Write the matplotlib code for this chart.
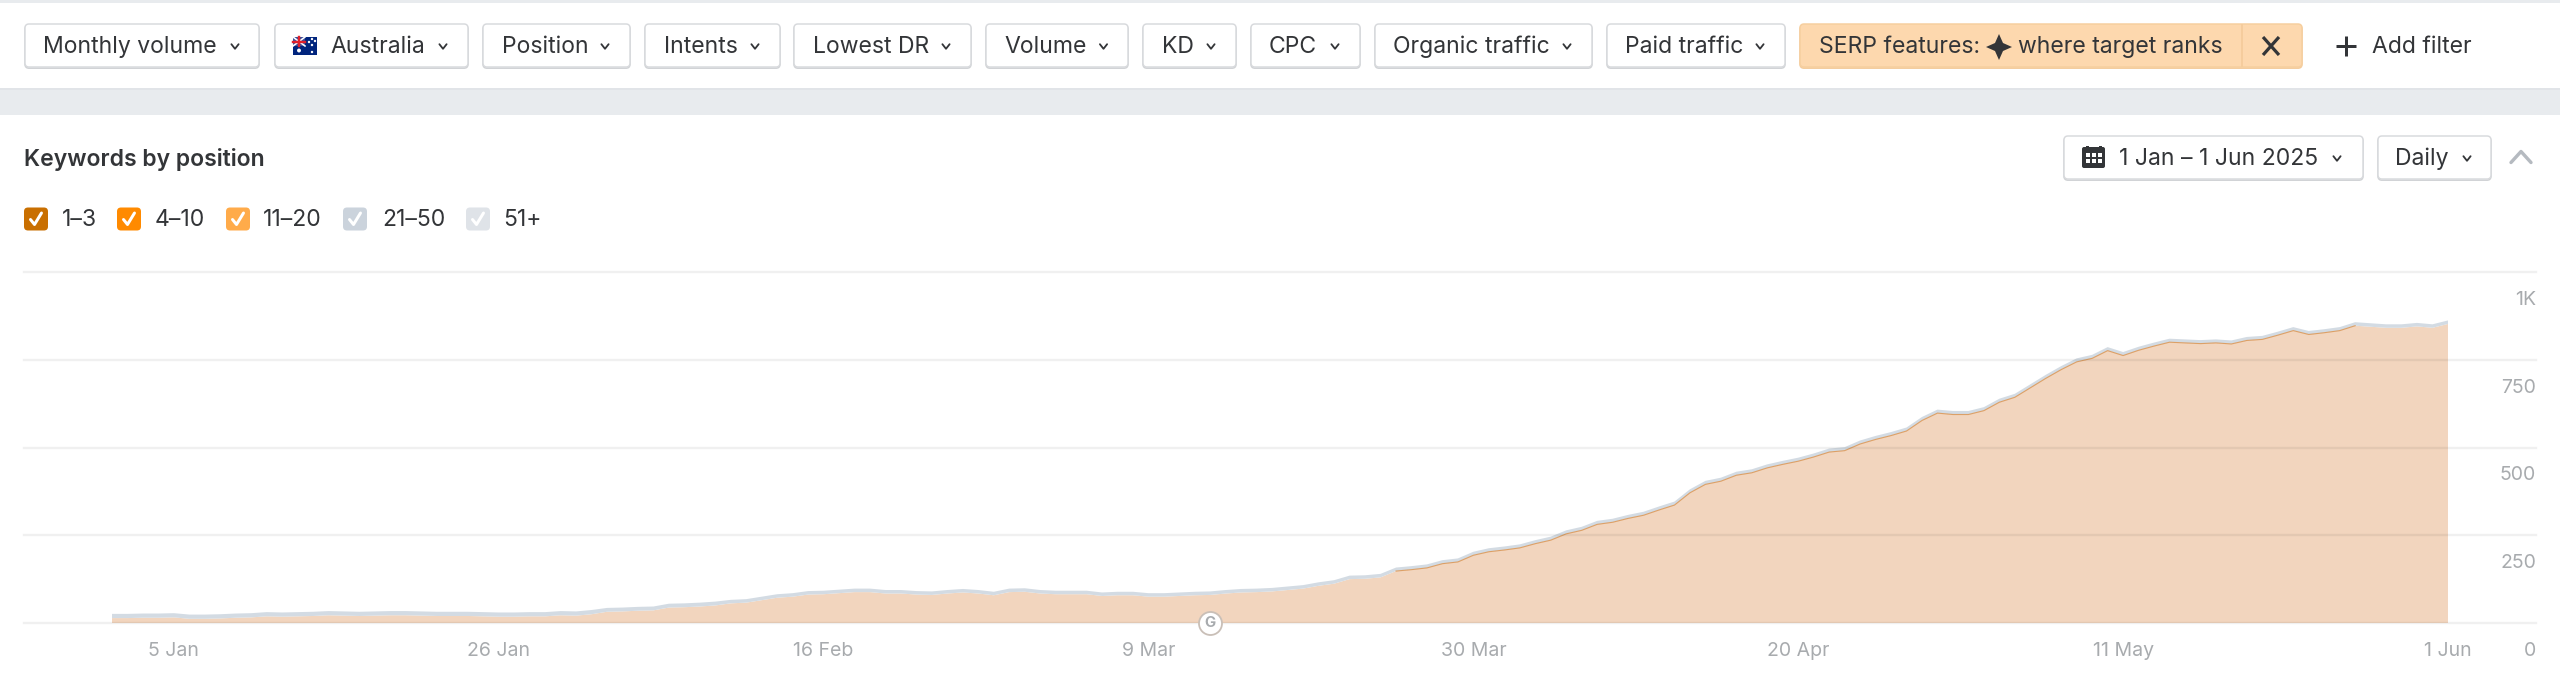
import numpy as np
import pandas as pd
import matplotlib
matplotlib.use('Agg')
import matplotlib.pyplot as plt
from matplotlib.patches import FancyBboxPatch, Rectangle, Polygon
from matplotlib.transforms import ScaledTranslation

plt.rcParams['font.family'] = ['Inter', 'DejaVu Sans']

# chart data
dates = pd.date_range('2025-01-01', '2025-06-01', freq='D')
keywords_total = [
    26, 26, 27, 27, 28, 24, 24, 25, 27, 28, 31, 30, 31, 32, 34, 33, 32, 33, 34, 34,
    33, 32, 32, 32, 31, 30, 30, 31, 31, 34, 33, 37, 43, 44, 46, 47, 55, 56, 58, 61,
    66, 68, 75, 82, 85, 91, 92, 95, 98, 98, 94, 94, 91, 90, 94, 97, 94, 89, 98, 99,
    94, 92, 92, 92, 87, 89, 89, 85, 85, 87, 89, 90, 94, 97, 98, 100, 104,
    108, 116, 122, 135, 136, 140, 158, 162, 167, 179, 184, 203, 213, 218, 224, 236,
    246, 264, 274, 291, 297, 308, 317, 332, 346, 381, 405, 414, 431, 438, 452, 462, 471,
    483, 497, 501, 520, 533, 544, 557, 587, 608, 604, 604, 615, 639, 653, 680, 707,
    732, 754, 764, 786, 772, 787, 799, 810, 808, 806, 808, 805, 815, 818, 830, 843,
    832, 837, 843, 857, 854, 851, 851, 855, 851, 862,
]
keywords_21_plus = [
    12, 12, 12, 12, 12, 12, 12, 12, 12, 12, 12, 12, 12, 12, 12, 12, 12, 12, 12, 12,
    12, 12, 12, 12, 12, 12, 12, 12, 12, 12, 12, 12, 11, 11, 11, 11, 11, 11, 11, 11,
    10, 10, 10, 10, 10, 10, 10, 10, 10, 10, 10, 10, 10, 10, 10, 10, 10, 10, 10, 10,
    10, 10, 10, 10, 10, 10, 10, 10, 10, 10, 10, 10, 10, 10, 10, 10, 10,
    10, 10, 10, 10, 10, 10, 10, 10, 10, 10, 10, 10, 10, 10, 10, 10,
    10, 10, 10, 10, 10, 10, 10, 10, 10, 10, 10, 10, 10, 10, 10, 10, 10,
    10, 10, 10, 10, 10, 10, 10, 10, 10, 10, 10, 10, 10, 10, 10, 10,
    10, 10, 10, 10, 10, 10, 10, 10, 10, 10, 10, 10, 10, 10, 10, 10,
    10, 10, 10, 10, 10, 10, 10, 10, 10, 10,
]
x_tick_dates = ['2025-01-05', '2025-01-26', '2025-02-16', '2025-03-09',
                '2025-03-30', '2025-04-20', '2025-05-11', '2025-06-01']
x_tick_labels = ['5 Jan', '26 Jan', '16 Feb', '9 Mar', '30 Mar', '20 Apr', '11 May', '1 Jun']
y_ticks = [0, 250, 500, 750, 1000]
y_tick_labels = ['0', '250', '500', '750', '1K']
google_update_date = '2025-03-13'

position_groups = ['1–3', '4–10', '11–20', '21–50', '51+']
position_colors = ['#c96f00', '#ff8a00', '#ffab4a', '#cbd3dc', '#dfe3e8']

TEXT = '#333538'
W, H = 2560, 682
PX = 0.72  # points per pixel at dpi 100

fig = plt.figure(figsize=(W / 100, H / 100), dpi=100, facecolor='white')

# page furniture in pixel coordinates
ui = fig.add_axes([0, 0, 1, 1])
ui.set_xlim(0, W)
ui.set_ylim(H, 0)
ui.axis('off')


def button(x0, x1, y0, y1, face='white', edge='#d8dadd', shade='#cfd1d4'):
    for off, col in ((1.2, shade), (0, edge)):
        ui.add_patch(FancyBboxPatch((x0 + 4, y0 + 4 + off), x1 - x0 - 8, y1 - y0 - 8,
                                    boxstyle='round,pad=4,rounding_size=4',
                                    fc=face, ec=col, lw=1.5 * PX))


def chevron(cx, cy, color=TEXT, up=False, w=3.6, h=2.3, lw=1.4):
    s = -1 if up else 1
    ui.plot([cx - w, cx, cx + w], [cy - s * h, cy + s * h, cy - s * h], color=color,
            lw=lw * PX * 1.3, solid_capstyle='round', solid_joinstyle='round')


def label(x, y, s, size=23, color=TEXT, ha='left', weight='normal'):
    ui.text(x, y, s, fontsize=size * PX, color=color, ha=ha, va='center',
            fontweight=weight)


ui.add_patch(Rectangle((0, 0), W, 3, fc='#e8ebee', ec='none'))
ui.add_patch(Rectangle((0, 88), W, 27, fc='#e8ebee', ec='none'))
ui.add_patch(Rectangle((0, 88), W, 2, fc='#e1e4e8', ec='none'))

filters = [
    ('Monthly volume', 25, 259, 43, 235),
    ('Australia', 275, 468, 330, 443),
    ('Position', 483, 630, 502, 605),
    ('Intents', 645, 780, 664, 755),
    ('Lowest DR', 794, 971, 813, 946),
    ('Volume', 986, 1128, 1004, 1103.5),
    ('KD', 1143, 1236, 1162, 1211),
    ('CPC', 1251, 1360, 1269, 1335),
    ('Organic traffic', 1375, 1592, 1393, 1567),
    ('Paid traffic', 1607, 1785, 1625, 1760),
]
for name, x0, x1, tx, cx in filters:
    button(x0, x1, 24, 67)
    label(tx, 47, name)
    chevron(cx, 46.5)

# australian flag
ui.add_patch(Rectangle((293, 37), 24, 18, fc='#00247d', ec='none', zorder=3))
ui.add_patch(Rectangle((293, 37), 12, 9, fc='#3b4f9a', ec='none', zorder=3))
ui.plot([293, 305], [37, 46], color='white', lw=1.6 * PX, zorder=4)
ui.plot([293, 305], [46, 37], color='white', lw=1.6 * PX, zorder=4)
ui.plot([299, 299], [37, 46], color='#e0202c', lw=2.4 * PX, zorder=5)
ui.plot([293, 305], [41.5, 41.5], color='#e0202c', lw=2.4 * PX, zorder=5)
ui.scatter([299, 312, 312, 309, 315, 312], [50.5, 39, 45, 42, 41, 52], s=[8, 3, 3, 3, 3, 3],
           color='white', lw=0, zorder=5)

# active SERP features filter
button(1800, 2302, 24, 67, face='#fdd8ae', edge='#f6cf9f', shade='#f3cb9c')
ui.plot([2242, 2242], [25, 66], color='#f3c998', lw=1.5 * PX)
label(1819, 47, 'SERP features:')
star_x = 1999
star_y = 47
ui.add_patch(Polygon([(star_x, star_y - 13), (star_x + 4, star_y - 4), (star_x + 13, star_y),
                      (star_x + 4, star_y + 4), (star_x, star_y + 13), (star_x - 4, star_y + 4),
                      (star_x - 13, star_y), (star_x - 4, star_y - 4)], fc=TEXT, ec='none'))
label(2018, 47, 'where target ranks')
ui.plot([2263, 2279], [37, 55], color=TEXT, lw=3.2 * PX, solid_capstyle='butt')
ui.plot([2263, 2279], [55, 37], color=TEXT, lw=3.2 * PX, solid_capstyle='butt')

ui.plot([2346, 2346], [36, 56], color=TEXT, lw=3 * PX, solid_capstyle='butt')
ui.plot([2336, 2356], [46, 46], color=TEXT, lw=3 * PX, solid_capstyle='butt')
label(2372, 47, 'Add filter')

# card header
label(24, 159.5, 'Keywords by position', weight='semibold')
button(2064, 2363, 136, 179)
ui.add_patch(FancyBboxPatch((2083, 148), 21, 19, boxstyle='round,pad=1,rounding_size=2',
                            fc=TEXT, ec='none'))
ui.add_patch(Rectangle((2086, 146), 2.5, 4, fc=TEXT, ec='none'))
ui.add_patch(Rectangle((2099, 146), 2.5, 4, fc=TEXT, ec='none'))
for cx in (2087.5, 2093.5, 2099.5):
    for cy in (155, 160.5):
        ui.add_patch(Rectangle((cx - 2, cy - 2), 4, 4, fc='white', ec='none'))
label(2119, 159, '1 Jan – 1 Jun 2025')
chevron(2337, 158.5)
button(2378, 2491, 136, 179)
label(2395, 159, 'Daily')
chevron(2467, 158.5)
chevron(2521, 157, color='#b5bac0', up=True, w=10, h=5.5, lw=2.6)

# position legend
box_x = [24, 117, 226, 343, 466]
text_x = [62, 155, 263, 382, 503]
for name, color, bx, tx in zip(position_groups, position_colors, box_x, text_x):
    ui.add_patch(FancyBboxPatch((bx + 3, 210.5), 18, 17, boxstyle='round,pad=3,rounding_size=4',
                                fc=color, ec='none'))
    ui.plot([bx + 6.5, bx + 10.5, bx + 17.5], [219.5, 224.5, 213], color='white', lw=3 * PX,
            solid_capstyle='round', solid_joinstyle='round')
    label(tx, 220, name)

# chart
ax = fig.add_axes([24 / W, 1 - 623 / H, (2536 - 24) / W, (623 - 272) / H])
ax.patch.set_alpha(0)
total = np.array(keywords_total, dtype=float)
upper = np.array(keywords_21_plus, dtype=float)
lower = total - upper
ax.stackplot(dates, lower, upper, colors=['#f2d5be', '#d3dbe3'], lw=0)
ax.plot(dates[83:146], lower[83:146], color='#d98a3e', lw=0.8, alpha=0.75)

pad_days = pd.Timedelta(days=5.69)
ax.set_xlim(dates[0] - pad_days, dates[-1] + pad_days)
ax.set_ylim(0, 1000)
ax.set_yticks(y_ticks)
ax.set_yticklabels(y_tick_labels)
ax.set_xticks(pd.to_datetime(x_tick_dates))
ax.set_xticklabels(x_tick_labels)
ax.set_axisbelow(False)
ax.grid(axis='y', color='black', alpha=0.06, lw=2.4 * PX)
ax.grid(axis='x', visible=False)
for line in ax.get_ygridlines():
    line.set_clip_on(False)
for side in ax.spines.values():
    side.set_visible(False)
ax.tick_params(axis='x', length=0, pad=13.8, labelsize=19.5 * PX, labelcolor='#a8abae')
ax.tick_params(axis='y', length=0, labelleft=False, labelright=True, labelsize=19.5 * PX,
               labelcolor='#a8abae')
shift = ScaledTranslation(0, -28 / 100, fig.dpi_scale_trans)
for tick in ax.yaxis.get_major_ticks():
    tick.label2.set_ha('right')
    tick.label2.set_va('center')
    tick.label2.set_transform(ax.get_yaxis_transform(which='grid') + shift)

# google update marker sits on the baseline
g_date = pd.Timestamp(google_update_date)
ax.scatter([g_date], [0], s=(23 * PX) ** 2, fc='white', ec='#c9bfb7', lw=1.8 * PX, clip_on=False, zorder=5)
ax.annotate('G', (g_date, 0), ha='center', va='center', fontsize=15 * PX, fontweight='bold',
            color='#a8abae', zorder=6)

fig.savefig('out.png', dpi=100)
